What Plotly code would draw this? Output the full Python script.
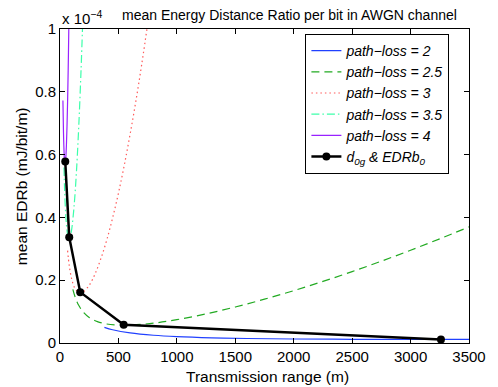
import plotly.graph_objects as go

# EDRb values in units of 1e-4 mJ/bit/m
d_pl2 = [380, 450, 600, 800, 1000, 1300, 1600, 2000, 2500, 3000, 3500]
e_pl2 = [0.0496, 0.0421, 0.0321, 0.0247, 0.0204, 0.0166, 0.0144, 0.0128, 0.0118, 0.0115, 0.0115]

d_pl25 = [110, 130, 160, 200, 250, 320, 400, 500, 600, 800, 1000, 1250, 1500, 1750,
          2000, 2250, 2500, 2750, 3000, 3250, 3500]
e_pl25 = [0.171, 0.146, 0.120, 0.098, 0.0814, 0.0682, 0.0606, 0.0569, 0.0569, 0.0631, 0.0743,
          0.0927, 0.1147, 0.1395, 0.1667, 0.1961, 0.2274, 0.2606, 0.2954, 0.3318, 0.3697]

d_pl3 = [65, 80, 100, 125, 150, 175, 200, 250, 300, 350, 400, 450, 500, 550, 600, 650, 700, 760]
e_pl3 = [0.294, 0.244, 0.204, 0.176, 0.164, 0.160, 0.163, 0.184, 0.220, 0.269, 0.328,
         0.398, 0.477, 0.566, 0.665, 0.772, 0.889, 1.041]

d_pl35 = [34, 40, 50, 60, 70, 80, 90, 100, 120, 140, 160, 180, 195]
e_pl35 = [0.559, 0.483, 0.403, 0.359, 0.338, 0.333, 0.342, 0.362, 0.433, 0.541, 0.686, 0.868, 1.03]

d_pl4 = [25, 30, 35, 40, 45, 50, 55, 60, 65, 70, 75, 78]
e_pl4 = [0.772, 0.668, 0.607, 0.578, 0.574, 0.592, 0.631, 0.690, 0.770, 0.869, 0.991, 1.074]

d0g = [45, 79, 173, 545, 3260]
edrb0 = [0.578, 0.337, 0.162, 0.058, 0.011]

x_ticks = [0, 500, 1000, 1500, 2000, 2500, 3000, 3500]
y_ticks = [0, 0.2, 0.4, 0.6, 0.8, 1]
y_labels = ["0", "0.2", "0.4", "0.6", "0.8", "1"]

fig = go.Figure()
fig.add_scatter(x=d_pl2, y=e_pl2, mode="lines", name="<i>path\u2212loss = 2</i>",
                line=dict(color="#2040ff", width=1.2, shape="spline"))
fig.add_scatter(x=d_pl25, y=e_pl25, mode="lines", name="<i>path\u2212loss = 2.5</i>",
                line=dict(color="#22aa22", width=1.2, dash="8px,5px", shape="spline"))
fig.add_scatter(x=d_pl3, y=e_pl3, mode="lines", name="<i>path\u2212loss = 3</i>",
                line=dict(color="#ff5a5a", width=1.2, dash="1.5px,3px", shape="spline"))
fig.add_scatter(x=d_pl35, y=e_pl35, mode="lines", name="<i>path\u2212loss = 3.5</i>",
                line=dict(color="#3cffaa", width=1.2, dash="8px,3px,1.5px,3px", shape="spline"))
fig.add_scatter(x=d_pl4, y=e_pl4, mode="lines", name="<i>path\u2212loss = 4</i>",
                line=dict(color="#9922ff", width=1.2, shape="spline"))
fig.add_scatter(x=d0g, y=edrb0, mode="lines+markers",
                name="<i>d<sub>0g</sub> & EDRb<sub>0</sub></i>",
                line=dict(color="black", width=2.5), marker=dict(color="black", size=8))

axis_style = dict(showline=True, linecolor="black", linewidth=1, mirror="ticks",
                  ticks="inside", ticklen=5, tickcolor="black", showgrid=False,
                  zeroline=False, tickfont=dict(size=15))
fig.update_xaxes(range=[0, 3500], tickvals=x_ticks, **axis_style)
fig.update_yaxes(range=[0, 1], tickvals=y_ticks, ticktext=y_labels, **axis_style)

# page body adds 8px offset, so the figure is 8px smaller than the window
fig.update_layout(
    width=490, height=379,
    margin=dict(l=52, r=18, t=19, b=44),
    plot_bgcolor="white", paper_bgcolor="white",
    font=dict(family="Liberation Sans, Arial, sans-serif", color="black"),
    legend=dict(x=0.6, y=0.984, xanchor="left", yanchor="top",
                bordercolor="black", borderwidth=1, bgcolor="white",
                font=dict(size=14), itemwidth=30, tracegroupgap=0),
    annotations=[
        dict(text="mean Energy Distance Ratio per bit in AWGN channel", x=0.56, y=1.044,
             xref="paper", yref="paper", xanchor="center", yanchor="middle",
             showarrow=False, font=dict(size=14)),
        dict(text="x 10<sup>\u22124</sup>", x=0, y=1.036, xref="paper", yref="paper",
             xanchor="left", yanchor="middle", showarrow=False, font=dict(size=15)),
        dict(text="Transmission range (m)", x=0.507, y=-0.108, xref="paper", yref="paper",
             xanchor="center", yanchor="middle", showarrow=False, font=dict(size=15.5)),
        dict(text="mean EDRb (mJ/bit/m)", x=-0.095, y=0.5, xref="paper", yref="paper",
             xanchor="center", yanchor="middle", textangle=-90, showarrow=False,
             font=dict(size=15.5)),
    ],
)

fig.write_html("out.html")
